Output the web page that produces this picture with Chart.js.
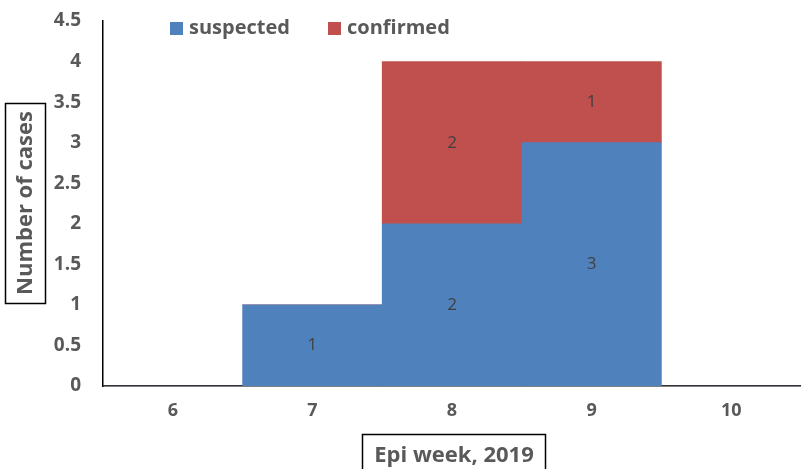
<!DOCTYPE html>
<html>
<head>
<meta charset="utf-8">
<script src="https://cdn.jsdelivr.net/npm/chart.js@4"></script>
<style>
  html, body { margin: 0; padding: 0; background: #fff; }
  #wrap { width: 801px; height: 469px; }
</style>
</head>
<body>
<div id="wrap"><canvas id="myChart" width="801" height="469"></canvas></div>
<script>
const weeks = ["6", "7", "8", "9", "10"];
const suspected = [0, 1, 2, 3, 0];
const confirmed = [0, 0, 2, 1, 0];
const yTitle = "Number of cases";
const xTitle = "Epi week, 2019";

const FONT = "'Open Sans', 'Liberation Sans', sans-serif";
const GREY = "#595959";

// labels in the middle of each bar piece, legend and boxed axis titles
const extras = {
  id: "extras",
  afterDatasetsDraw(chart) {
    const ctx = chart.ctx;
    ctx.save();
    ctx.font = "17px " + FONT;
    ctx.fillStyle = "#404040";
    ctx.textAlign = "center";
    ctx.textBaseline = "middle";
    chart.data.datasets.forEach((ds, i) => {
      chart.getDatasetMeta(i).data.forEach((bar, j) => {
        if (!ds.data[j]) return;
        const p = bar.getProps(["x", "y", "base"], true);
        ctx.fillText(ds.data[j], p.x, (p.y + p.base) / 2);
      });
    });
    ctx.restore();
  },
  afterDraw(chart) {
    const ctx = chart.ctx;
    ctx.save();
    // legend
    ctx.font = "bold 20px " + FONT;
    ctx.textBaseline = "middle";
    ctx.textAlign = "left";
    let lx = 170;
    chart.data.datasets.forEach((ds) => {
      ctx.fillStyle = ds.backgroundColor;
      ctx.fillRect(lx, 22, 13, 13);
      ctx.fillStyle = GREY;
      ctx.fillText(ds.label, lx + 19, 28);
      lx += 158;
    });

    // y title
    ctx.font = "bold 22px " + FONT;
    ctx.strokeStyle = "#000";
    ctx.lineWidth = 1.5;
    ctx.strokeRect(5.5, 103.5, 40, 200);
    ctx.translate(25, 203);
    ctx.rotate(-Math.PI / 2);
    ctx.textAlign = "center";
    ctx.fillStyle = GREY;
    ctx.fillText(yTitle, 0, 1);
    ctx.setTransform(1, 0, 0, 1, 0, 0);

    // x title
    ctx.strokeRect(362.5, 434.5, 183, 40);
    ctx.textAlign = "center";
    ctx.fillText(xTitle, 454, 456);
    ctx.restore();
  }
};

new Chart(document.getElementById("myChart"), {
  type: "bar",
  data: {
    labels: weeks,
    datasets: [
      { label: "suspected", data: suspected, backgroundColor: "#4F81BD", borderWidth: 0 },
      { label: "confirmed", data: confirmed, backgroundColor: "#C0504D", borderWidth: 0 }
    ]
  },
  options: {
    responsive: false,
    animation: false,
    events: [],
    layout: { padding: { top: 21, left: 0, right: 0, bottom: 0 } },
    plugins: { legend: { display: false }, tooltip: { enabled: false } },
    datasets: { bar: { barPercentage: 1, categoryPercentage: 1 } },
    scales: {
      x: {
        stacked: true,
        grid: { display: false, drawTicks: false },
        border: { display: true, color: "#000", width: 1.5 },
        ticks: { color: GREY, font: { family: FONT, size: 18, weight: "bold" }, padding: 14 },
        afterFit(s) { s.height = 83; }
      },
      y: {
        stacked: true,
        min: 0,
        max: 4.5,
        grid: { display: false, drawTicks: false },
        border: { display: true, color: "#000", width: 1.5 },
        ticks: {
          stepSize: 0.5,
          color: GREY,
          font: { family: FONT, size: 19, weight: "bold" },
          padding: 22,
          callback: (v) => String(v)
        },
        // fixed axis width, no extra room above the top tick
        afterFit(s) { s.width = 103; s.paddingTop = 0; s.paddingBottom = 0; }
      }
    }
  },
  plugins: [extras]
});
</script>
</body>
</html>
